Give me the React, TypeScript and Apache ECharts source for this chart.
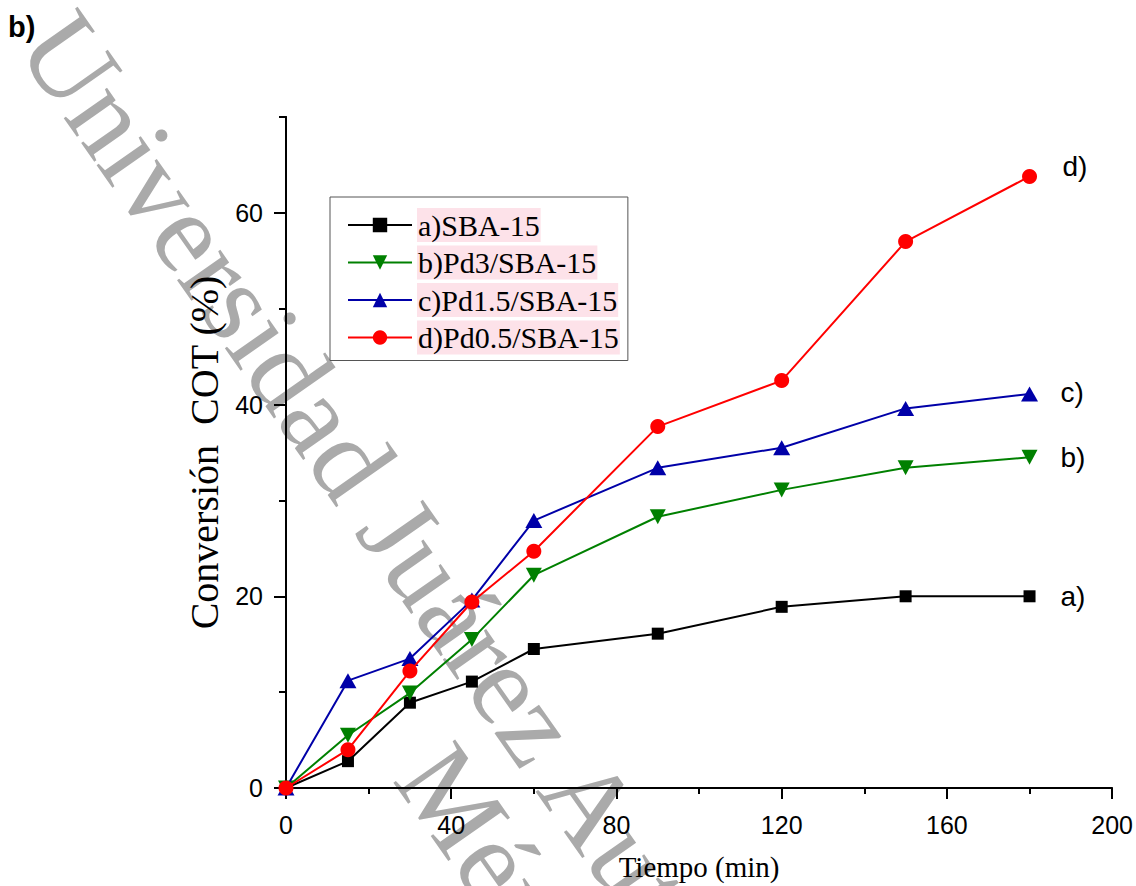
import React, { useEffect, useRef } from "react";
import * as echarts from "echarts";

const timeMin = [0, 15, 30, 45, 60, 90, 120, 150, 180];
const sba15 = [0, 2.8, 8.9, 11.1, 14.5, 16.1, 18.9, 20.0, 20.0];
const pd3 = [0, 5.5, 9.9, 15.5, 22.2, 28.3, 31.1, 33.4, 34.5];
const pd15 = [0, 11.2, 13.5, 19.6, 27.9, 33.4, 35.5, 39.6, 41.1];
const pd05 = [0, 4.0, 12.2, 19.4, 24.7, 37.7, 42.5, 57.0, 63.8];

const seriesNames = ["a)SBA-15", "b)Pd3/SBA-15", "c)Pd1.5/SBA-15", "d)Pd0.5/SBA-15"];
const endTags = ["a)", "b)", "c)", "d)"];
const yMajorTicks = [0, 20, 40, 60];

const SERIF = "Liberation Serif";
const SANS = "Liberation Sans";

export default function App() {
  const ref = useRef<HTMLDivElement>(null);
  useEffect(() => {
    if (!ref.current) return;
    const chart = echarts.init(ref.current, undefined, { renderer: "svg" });
    const pair = (vals: number[]) => timeMin.map((t, i) => [t, vals[i]]);
    const axisLine = { show: true, lineStyle: { color: "#000", width: 2 } };
    const endLabel = (tag: string, offset: number[] = [0, 0]) => ({
      show: true,
      formatter: tag,
      distance: 31,
      offset,
      color: "#000",
      fontFamily: SANS,
      fontSize: 28,
    });
    const defs = [
      { vals: sba15, color: "#000000", symbol: "rect", size: 12 as any, off: [0, 0] },
      { vals: pd3, color: "#008000", symbol: "path://M0,0L16,0L8,15Z", size: [16, 15], off: [0, 0] },
      { vals: pd15, color: "#0000a8", symbol: "triangle", size: [17, 15], off: [0, -2] },
      { vals: pd05, color: "#ff0000", symbol: "circle", size: 15, off: [2, -10] },
    ];
    const series = defs.map((d, i) => ({
      name: seriesNames[i],
      type: "line",
      xAxisIndex: 0,
      yAxisIndex: 0,
      data: pair(d.vals),
      symbol: d.symbol,
      symbolSize: d.size,
      color: d.color,
      itemStyle: { color: d.color },
      lineStyle: { color: d.color, width: 2 },
      endLabel: endLabel(endTags[i], d.off),
      z: 2 + i,
    }));
    const rot = (-55 * Math.PI) / 180;
    chart.setOption({
      animation: false,
      backgroundColor: "#ffffff",
      grid: { left: 286, width: 828, top: 117, height: 675, containLabel: false },
      graphic: [
        {
          type: "text",
          x: 46,
          y: 26,
          rotation: rot,
          z: -10,
          silent: true,
          style: {
            text: "Universidad Juárez Autónoma de Tabasco",
            fill: "#aaaaaa",
            fontSize: 115,
            fontFamily: SERIF,
            align: "left",
            verticalAlign: "middle",
          },
        },
        {
          type: "text",
          x: 423,
          y: 758,
          rotation: rot,
          z: -10,
          silent: true,
          style: {
            text: "México",
            fill: "#aaaaaa",
            fontSize: 115,
            fontFamily: SERIF,
            align: "left",
            verticalAlign: "middle",
          },
        },
        {
          type: "text",
          left: 8,
          top: 12,
          z: 10,
          style: {
            text: "b)",
            fill: "#000",
            fontSize: 29,
            fontWeight: "bold",
            fontFamily: SANS,
          },
        },
      ],
      legend: {
        orient: "vertical",
        left: 330,
        top: 197,
        padding: [11, 8, 6, 17],
        itemWidth: 64,
        itemHeight: 18,
        itemGap: 3.5,
        borderColor: "#555",
        borderWidth: 1,
        backgroundColor: "#fff",
        textStyle: {
          fontFamily: SERIF,
          fontSize: 30,
          color: "#000",
          backgroundColor: "#fde2e9",
          padding: [2, 1, 2, 1],
        },
        data: seriesNames,
      },
      xAxis: {
        type: "value",
        min: 0,
        max: 200,
        interval: 40,
        axisLine,
        axisTick: { show: true, length: 11, lineStyle: { color: "#000", width: 2 } },
        minorTick: { show: true, splitNumber: 2, length: 6, lineStyle: { color: "#000", width: 2 } },
        splitLine: { show: false },
        minorSplitLine: { show: false },
        axisLabel: { color: "#000", fontSize: 25, fontFamily: SANS, margin: 24 },
        name: "Tiempo (min)",
        nameLocation: "middle",
        nameGap: 64,
        nameTextStyle: { color: "#000", fontSize: 29, fontFamily: SERIF },
      },
      yAxis: [
        {
          type: "value",
          min: 0,
          max: 70,
          interval: 10,
          position: "left",
          axisLine,
          axisTick: { show: true, length: 7, lineStyle: { color: "#000", width: 2 } },
          axisLabel: { show: false },
          splitLine: { show: false },
        },
        {
          type: "value",
          min: 0,
          max: 70,
          interval: 10,
          position: "left",
          axisLine,
          axisTick: {
            show: true,
            length: 12,
            customValues: yMajorTicks,
            lineStyle: { color: "#000", width: 2 },
          },
          axisLabel: {
            color: "#000",
            fontSize: 25,
            fontFamily: SANS,
            margin: 23,
            customValues: yMajorTicks,
          },
          splitLine: { show: false },
          name: "Conversión  COT (%)",
          nameLocation: "middle",
          nameGap: 55,
          nameTextStyle: { color: "#000", fontSize: 40, fontFamily: SERIF },
        },
      ],
      series,
    });
    return () => chart.dispose();
  }, []);
  return (
    <div
      ref={ref}
      style={{ position: "fixed", left: 0, top: 0, width: 1136, height: 886, background: "#fff" }}
    />
  );
}
